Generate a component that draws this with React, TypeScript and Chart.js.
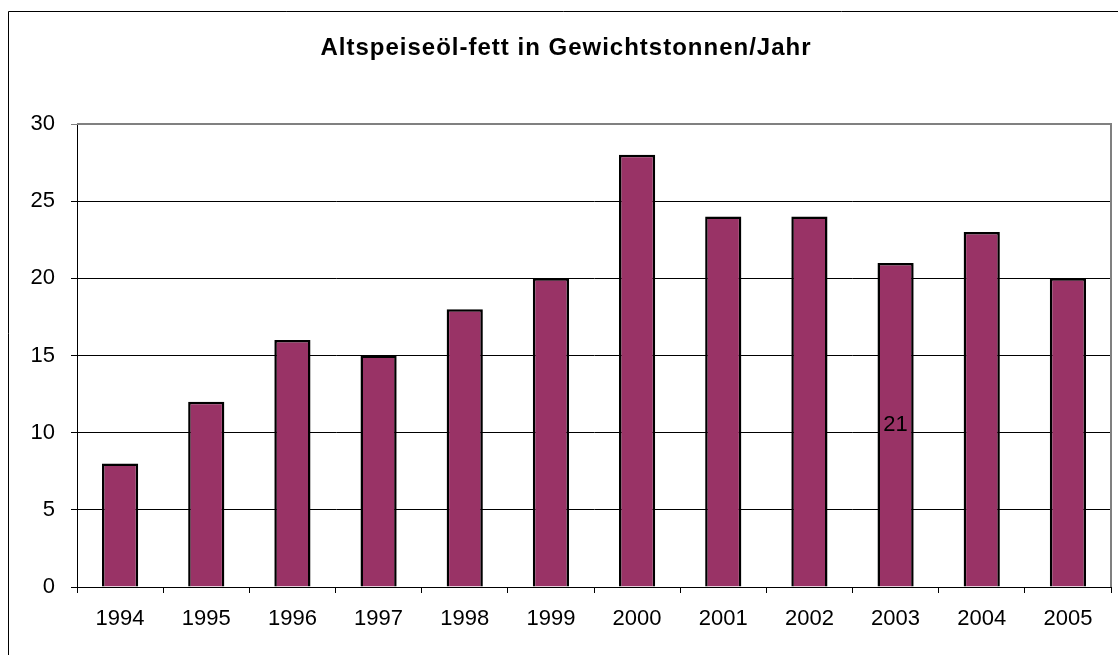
import React, { useEffect, useRef } from "react";
import { Chart, registerables } from "chart.js";

Chart.register(...registerables);

const years = ["1994", "1995", "1996", "1997", "1998", "1999", "2000", "2001", "2002", "2003", "2004", "2005"];
const tonnes = [8, 12, 16, 15, 18, 20, 28, 24, 24, 21, 23, 20];
const labelledYears = ["2003"];
const titleText = "Altspeiseöl-fett in Gewichtstonnen/Jahr";

const FONT = "'Liberation Sans', Arial, sans-serif";

const framePlugin = {
  id: "frame",
  beforeDraw(chart: any) {
    const ctx = chart.ctx;
    ctx.save();
    ctx.strokeStyle = "#000";
    ctx.lineWidth = 1;
    ctx.beginPath();
    ctx.moveTo(8.5, chart.height + 5);
    ctx.lineTo(8.5, 11.5);
    ctx.lineTo(chart.width + 5, 11.5);
    ctx.stroke();
    // title
    ctx.fillStyle = "#000";
    ctx.font = `bold 24px ${FONT}`;
    (ctx as any).letterSpacing = "1px";
    ctx.textAlign = "center";
    ctx.textBaseline = "alphabetic";
    ctx.fillText(titleText, chart.width / 2 + 7, 55);
    ctx.restore();
  },
  afterDatasetsDraw(chart: any) {
    const ctx = chart.ctx;
    const a = chart.chartArea;
    ctx.save();
    ctx.strokeStyle = "#808080";
    ctx.lineWidth = 2;
    ctx.beginPath();
    ctx.moveTo(a.left, a.top);
    ctx.lineTo(a.right, a.top);
    ctx.lineTo(a.right, a.bottom);
    ctx.stroke();
    // data labels
    const meta = chart.getDatasetMeta(0);
    ctx.fillStyle = "#000";
    ctx.font = `22px ${FONT}`;
    ctx.textAlign = "center";
    ctx.textBaseline = "middle";
    meta.data.forEach((bar: any, i: number) => {
      if (labelledYears.includes(years[i])) {
        const y = (bar.y + bar.base) / 2;
        ctx.fillText(String(tonnes[i]), bar.x, y);
      }
    });
    ctx.restore();
  },
};

export default function App() {
  const ref = useRef<HTMLCanvasElement | null>(null);
  useEffect(() => {
    if (!ref.current) return;
    const chart = new Chart(ref.current, {
      type: "bar",
      data: {
        labels: years,
        datasets: [
          {
            data: tonnes,
            backgroundColor: "#993366",
            borderColor: "#000000",
            borderWidth: 2.5,
            barPercentage: 0.42,
            categoryPercentage: 1,
          },
        ],
      },
      options: {
        animation: false,
        responsive: false,
        maintainAspectRatio: false,
        layout: { padding: { left: 0, right: 7, top: 124, bottom: 0 } },
        plugins: {
          legend: { display: false },
          tooltip: { enabled: false },
          title: { display: false },
        },
        scales: {
          x: {
            offset: true,
            grid: {
              display: true,
              drawOnChartArea: false,
              drawTicks: true,
              tickLength: 6,
              color: "#000",
              offset: true,
            },
            border: { display: true, color: "#000", width: 1 },
            ticks: {
              color: "#000",
              font: { family: FONT, size: 22, lineHeight: 1.2 },
              padding: 13,
              maxRotation: 0,
              autoSkip: false,
            },
            afterFit: (s: any) => {
              s.height = 68;
            },
          },
          y: {
            min: 0,
            max: 30,
            ticks: {
              stepSize: 5,
              color: "#000",
              font: { family: FONT, size: 22, lineHeight: 1.2 },
              padding: 16,
            },
            grid: {
              color: (c: any) => (c.tick && c.tick.value === 30 ? "#808080" : "#000"),
              lineWidth: 1,
              tickLength: 6,
              drawTicks: true,
            },
            border: { display: true, color: "#000", width: 1 },
            afterFit: (s: any) => {
              s.width = 77;
            },
          },
        },
      },
      plugins: [framePlugin],
    });
    return () => chart.destroy();
  }, []);
  return (
    <div style={{ position: "absolute", left: 0, top: 0, width: 1118, height: 655, background: "#fff" }}>
      <canvas ref={ref} width={1118} height={655} style={{ display: "block", width: 1118, height: 655 }} />
    </div>
  );
}
